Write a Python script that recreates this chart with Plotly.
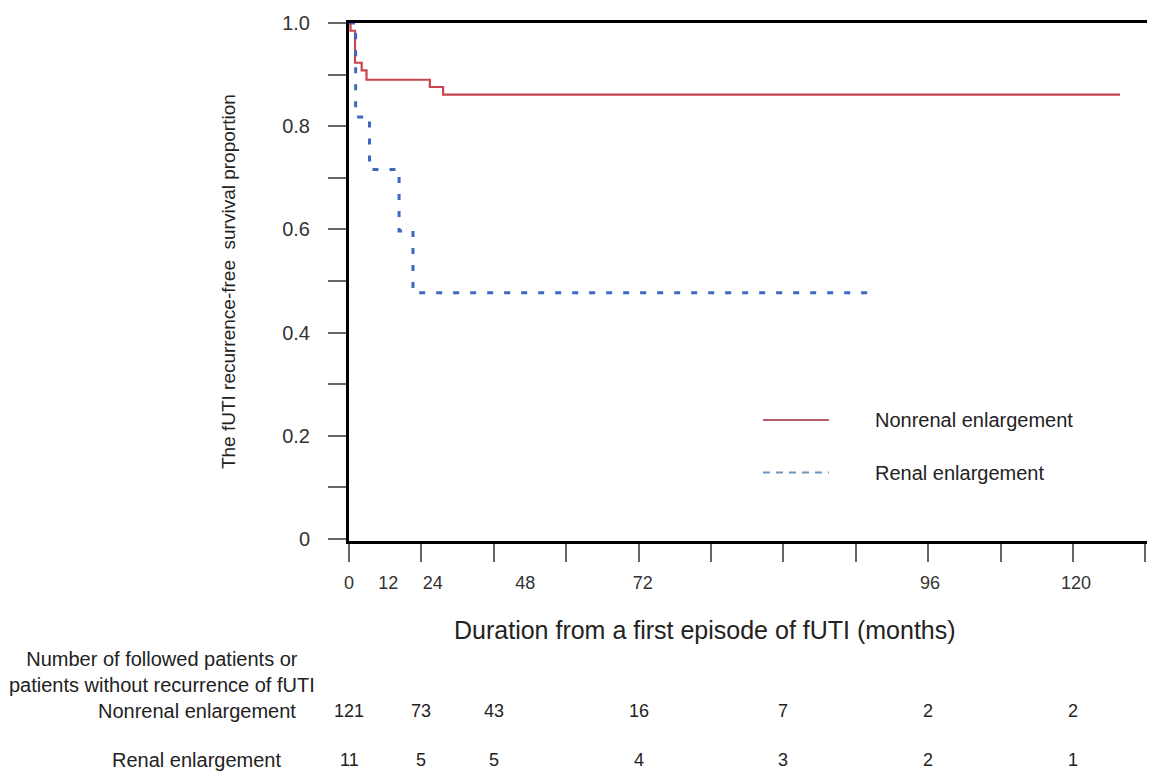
import plotly.graph_objects as go

# ---- data ----
red_months = [0, 0.25, 1.0, 2.1, 2.9, 13.4, 15.6, 127.8]
red_surv = [1.0, 0.985, 0.923, 0.908, 0.890, 0.876, 0.861, 0.861]

blue_months = [0, 1.1, 3.4, 8.3, 10.6, 87.2]
blue_surv = [1.0, 0.818, 0.716, 0.597, 0.477, 0.477]

group_names = ["Nonrenal enlargement", "Renal enlargement"]

x_tick_months = [0, 12, 24, 36, 48, 60, 72, 84, 96, 108, 120, 132]
x_tick_labels = ["0", "12", "24", "48", "72", "96", "120"]
x_tick_label_months = [0, 6.5, 13.9, 29.2, 48.7, 96.3, 120.5]

y_tick_vals = [0, 0.1, 0.2, 0.3, 0.4, 0.5, 0.6, 0.7, 0.8, 0.9, 1.0]
y_tick_text = ["0", "", "0.2", "", "0.4", "", "0.6", "", "0.8", "", "1.0"]

risk_months = [0, 12, 24, 48, 72, 96, 120]
risk_nonrenal = [121, 73, 43, 16, 7, 2, 2]
risk_renal = [11, 5, 5, 4, 3, 2, 1]

# ---- styling ----
RED = "#c8444e"
BLUE = "#3d68c2"
FONT = "Liberation Sans, Arial, sans-serif"
XMAX = 133.6

fig = go.Figure()
fig.add_trace(go.Scatter(x=red_months, y=red_surv, mode="lines", line_shape="hv",
                         line=dict(color=RED, width=2.2), name=group_names[0],
                         showlegend=False))
fig.add_trace(go.Scatter(x=blue_months, y=blue_surv, mode="lines", line_shape="hv",
                         line=dict(color=BLUE, width=3, dash="6px,11px"),
                         name=group_names[1], showlegend=False, xaxis="x2"))

# legend drawn manually
fig.add_shape(type="line", xref="paper", yref="paper", x0=0.5136, x1=0.5955,
              y0=0.2336, y1=0.2336, line=dict(color="#b85e66", width=2.2))
fig.add_shape(type="line", xref="paper", yref="paper", x0=0.5136, x1=0.5955,
              y0=0.1322, y1=0.1322, line=dict(color="#6f94bd", width=2.2, dash="7px,6px"))
for name, yy in zip(group_names, [0.2336, 0.1322]):
    fig.add_annotation(text=name, xref="paper", yref="paper", x=0.650, y=yy,
                       xanchor="left", yanchor="middle", showarrow=False,
                       font=dict(family=FONT, size=20, color="#222"))

# axis titles
fig.add_annotation(text="The fUTI recurrence-free  survival proportion", xref="paper",
                   yref="paper", x=-0.150, y=0.5, textangle=-90, showarrow=False,
                   xanchor="center", yanchor="middle",
                   font=dict(family=FONT, size=19, color="#222"))
fig.add_annotation(text="Duration from a first episode of fUTI (months)", xref="paper",
                   yref="paper", x=0.4417, y=-0.1718, showarrow=False,
                   xanchor="center", yanchor="middle",
                   font=dict(family=FONT, size=25, color="#222"))

# number-at-risk table
fig.add_annotation(text="Number of followed patients or<br>patients without recurrence of fUTI",
                   xref="paper", yref="paper", x=-0.232, y=-0.2529, showarrow=False,
                   xanchor="center", yanchor="middle", align="center",
                   font=dict(family=FONT, size=20, color="#222"))
row_y = [-0.328, -0.4228]
for name, yy in zip(group_names, row_y):
    fig.add_annotation(text=name, xref="paper", yref="paper", x=-0.1886, y=yy,
                       showarrow=False, xanchor="center", yanchor="middle",
                       font=dict(family=FONT, size=20, color="#222"))
for counts, yy in zip([risk_nonrenal, risk_renal], row_y):
    for m, c in zip(risk_months, counts):
        fig.add_annotation(text=str(c), xref="x", yref="paper", x=m, y=yy,
                           showarrow=False, xanchor="center", yanchor="middle",
                           font=dict(family=FONT, size=18, color="#222"))

fig.update_layout(
    width=1147, height=764,
    margin=dict(l=341, r=0, t=15, b=231),
    plot_bgcolor="white", paper_bgcolor="white",
    font=dict(family=FONT, color="#333"),
    xaxis=dict(range=[0, XMAX], showgrid=False, zeroline=False,
               showline=True, linecolor="black", linewidth=3, mirror=True,
               tickvals=x_tick_months, showticklabels=False,
               ticks="outside", ticklen=18, tickwidth=1.5, tickcolor="#666"),
    xaxis2=dict(range=[0, XMAX], overlaying="x", anchor="y", side="bottom",
                showgrid=False, zeroline=False, showline=False,
                tickvals=x_tick_label_months, ticktext=x_tick_labels,
                ticks="outside", ticklen=25, tickcolor="rgba(0,0,0,0)",
                tickfont=dict(family=FONT, size=18, color="#333")),
    yaxis=dict(range=[-0.004, 1.0], showgrid=False, zeroline=False,
               showline=True, linecolor="black", linewidth=3,
               tickvals=y_tick_vals, ticktext=y_tick_text,
               ticks="outside", ticklen=18, tickwidth=1.5, tickcolor="#666",
               ticklabelstandoff=14,
               tickfont=dict(family=FONT, size=20, color="#333")),
)

fig.write_html("out.html")
